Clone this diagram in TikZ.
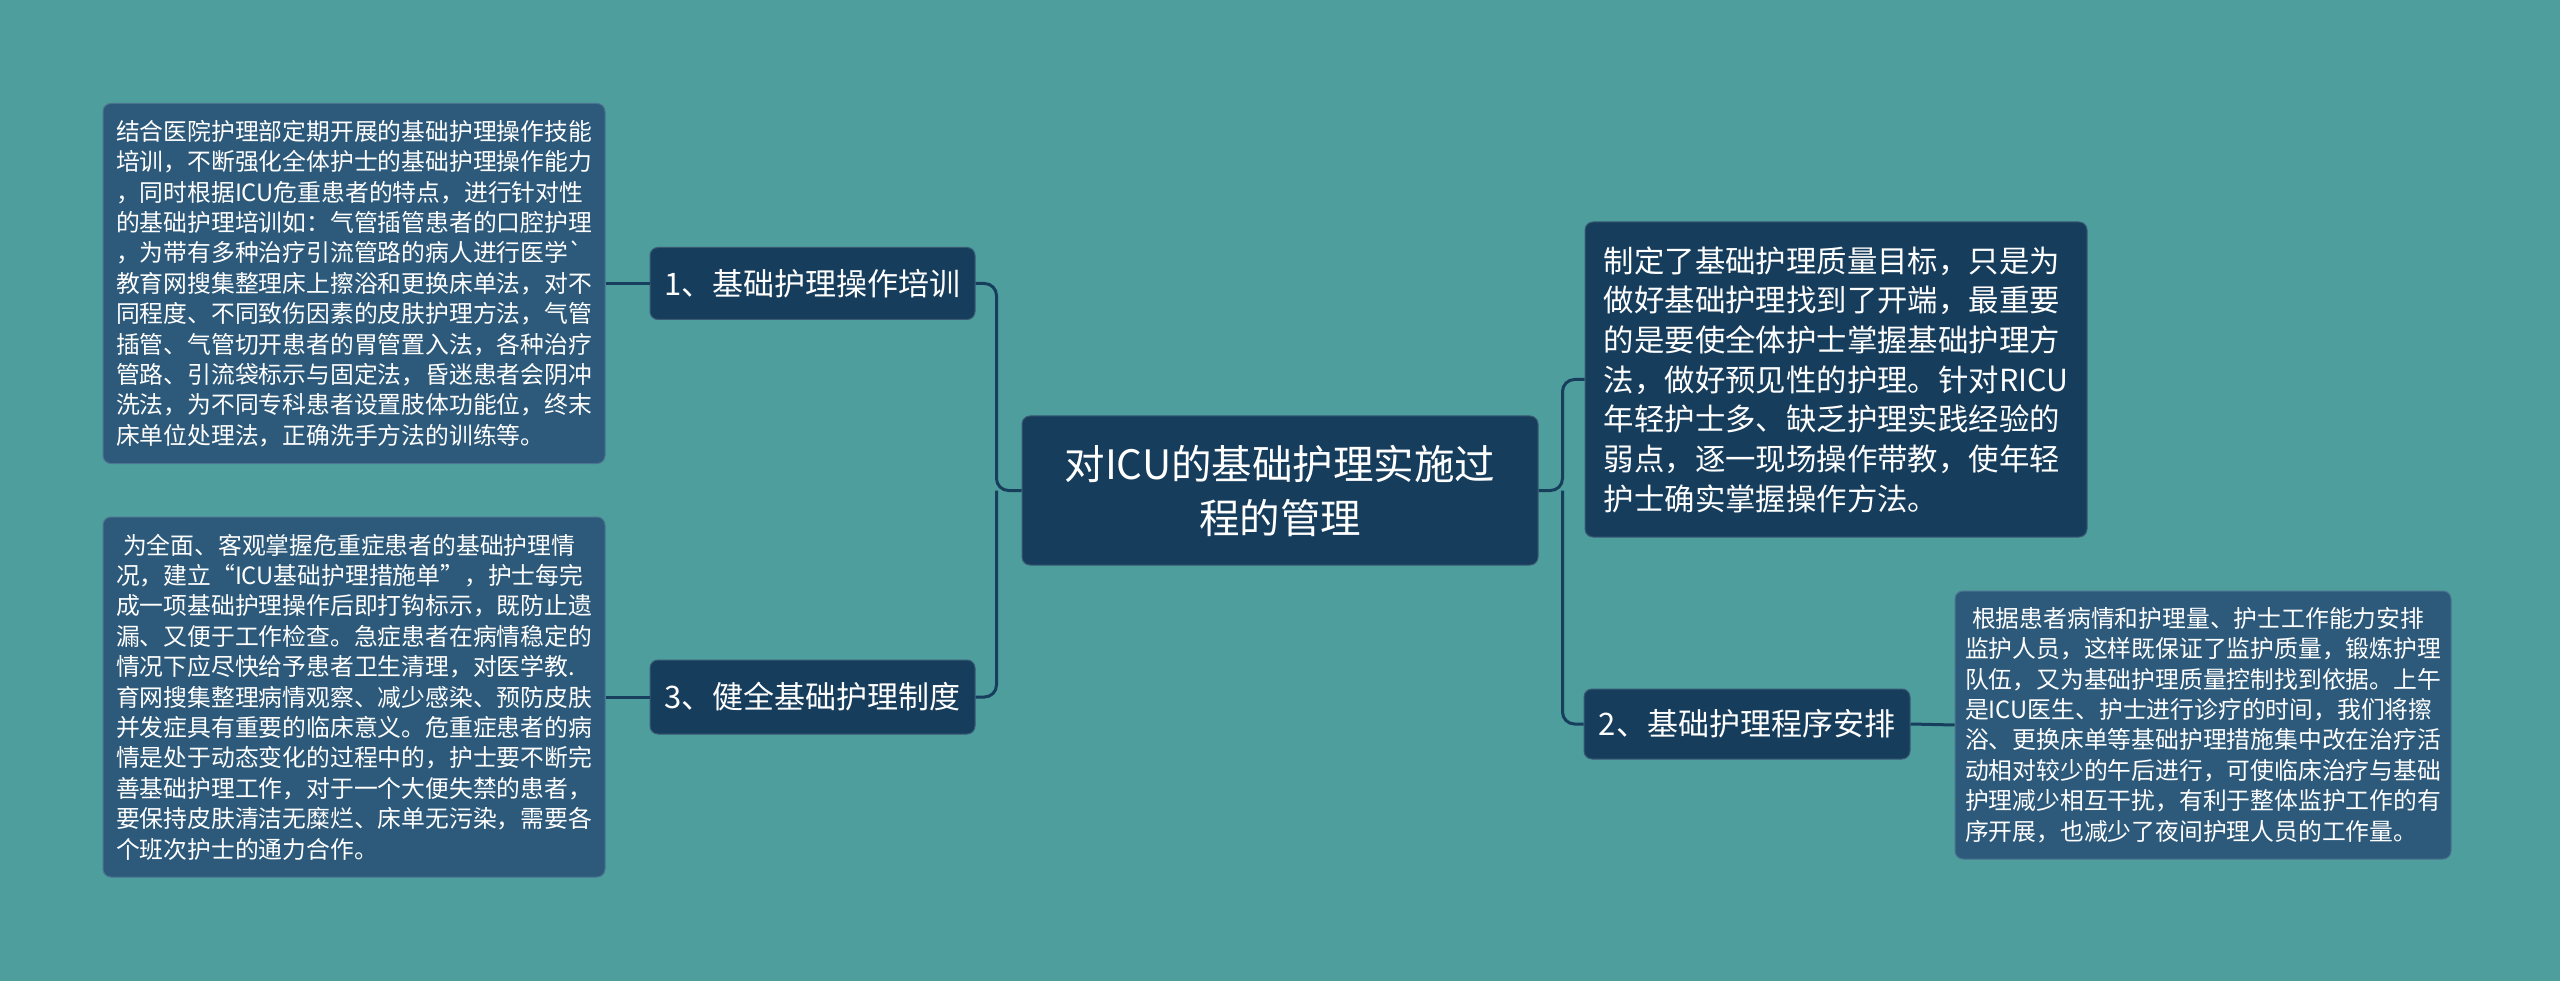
\documentclass[tikz,border=0pt]{standalone}
\usepackage{fontspec}
\setmainfont{Noto Sans CJK SC}
\usepackage{xcolor}
\usetikzlibrary{positioning, calc}
\definecolor{bgTeal}{HTML}{4E9E9D}
\definecolor{darkNavy}{HTML}{173D5C}
\definecolor{lightNavy}{HTML}{2D5A7B}
\definecolor{linkNavy}{HTML}{183E5E}
\tikzset{
    rootNode/.style={rectangle, rounded corners=8pt, fill=darkNavy, draw=darkNavy!85!white, line width=1pt, text=white, align=center, inner sep=0pt, font=\fontsize{40.5}{54}\selectfont},
    topicNode/.style={rectangle, rounded corners=8pt, fill=darkNavy, draw=darkNavy!85!white, line width=1pt, text=white, align=left, inner sep=0pt, font=\fontsize{31}{36}\selectfont},
    noteNode/.style={rectangle, rounded corners=8pt, fill=lightNavy, draw=lightNavy!85!white, line width=1pt, text=white, align=left, inner sep=0pt, font=\fontsize{23.8}{30.4}\selectfont},
    bigNote/.style={noteNode, fill=darkNavy, draw=darkNavy!85!white, font=\fontsize{30.4}{39.7}\selectfont},
    link/.style={draw=linkNavy, line width=3pt, rounded corners=12pt}
}

\begin{document}
\begin{tikzpicture}[x=1pt, y=-1pt]
    \fill[bgTeal] (0,0) rectangle (2560,981);
    \useasboundingbox (0,0) rectangle (2560,981);
    % --- centre ---
    \node[rootNode, minimum width=516, minimum height=149] (root) at (1280,490.5)
        {对ICU的基础护理实施过\\程的管理};
    % --- left branch ---
    \node[topicNode, minimum width=325, minimum height=72] (train) at (812.5,283.5) {1、基础护理操作培训};
    \node[topicNode, minimum width=325, minimum height=74] (rule) at (812.5,697) {3、健全基础护理制度};
    \node[noteNode, minimum width=502, minimum height=360] (trainNote) at (354,283.5)
        {结合医院护理部定期开展的基础护理操作技能\\
         培训，不断强化全体护士的基础护理操作能力\\
         ，同时根据ICU危重患者的特点，进行针对性\\
         的基础护理培训如：气管插管患者的口腔护理\\
         ，为带有多种治疗引流管路的病人进行医学\textasciigrave\\
         教育网搜集整理床上擦浴和更换床单法，对不\\
         同程度、不同致伤因素的皮肤护理方法，气管\\
         插管、气管切开患者的胃管置入法，各种治疗\\
         管路、引流袋标示与固定法，昏迷患者会阴冲\\
         洗法，为不同专科患者设置肢体功能位，终末\\
         床单位处理法，正确洗手方法的训练等。};
    \node[noteNode, minimum width=502, minimum height=360] (ruleNote) at (354,697)
        {\hspace{7pt}为全面、客观掌握危重症患者的基础护理情\\
         况，建立“ICU基础护理措施单”，护士每完\\
         成一项基础护理操作后即打钩标示，既防止遗\\
         漏、又便于工作检查。急症患者在病情稳定的\\
         情况下应尽快给予患者卫生清理，对医学教.\\
         育网搜集整理病情观察、减少感染、预防皮肤\\
         并发症具有重要的临床意义。危重症患者的病\\
         情是处于动态变化的过程中的，护士要不断完\\
         善基础护理工作，对于一个大便失禁的患者，\\
         要保持皮肤清洁无糜烂、床单无污染，需要各\\
         个班次护士的通力合作。};
    % --- right branch ---
    \node[bigNote, minimum width=502, minimum height=315] (goalNote) at (1836,379.5)
        {制定了基础护理质量目标，只是为\\
         做好基础护理找到了开端，最重要\\
         的是要使全体护士掌握基础护理方\\
         法，做好预见性的护理。针对RICU\\
         年轻护士多、缺乏护理实践经验的\\
         弱点，逐一现场操作带教，使年轻\\
         护士确实掌握操作方法。};
    \node[topicNode, minimum width=326, minimum height=70] (plan) at (1747,724) {2、基础护理程序安排};
    \node[noteNode, minimum width=496, minimum height=268] (planNote) at (2203,725)
        {\hspace{7pt}根据患者病情和护理量、护士工作能力安排\\
         监护人员，这样既保证了监护质量，锻炼护理\\
         队伍，又为基础护理质量控制找到依据。上午\\
         是ICU医生、护士进行诊疗的时间，我们将擦\\
         浴、更换床单等基础护理措施集中改在治疗活\\
         动相对较少的午后进行，可使临床治疗与基础\\
         护理减少相互干扰，有利于整体监护工作的有\\
         序开展，也减少了夜间护理人员的工作量。};
    % --- connectors ---
    \coordinate (leftJoin) at ($(root.west)+(-25,0)$);
    \coordinate (rightJoin) at ($(root.east)+(24,0)$);
    \draw[link] (root.west) -- (leftJoin) |- (train.east);
    \draw[link] (leftJoin) |- (rule.east);
    \draw[link] (root.east) -- (rightJoin) |- (goalNote.west);
    \draw[link] (rightJoin) |- (plan.west);
    \draw[link] (train.west) -- (trainNote.east);
    \draw[link] (rule.west) -- (ruleNote.east);
    \draw[link] (plan.east) -- (planNote.west);
\end{tikzpicture}
\end{document}
